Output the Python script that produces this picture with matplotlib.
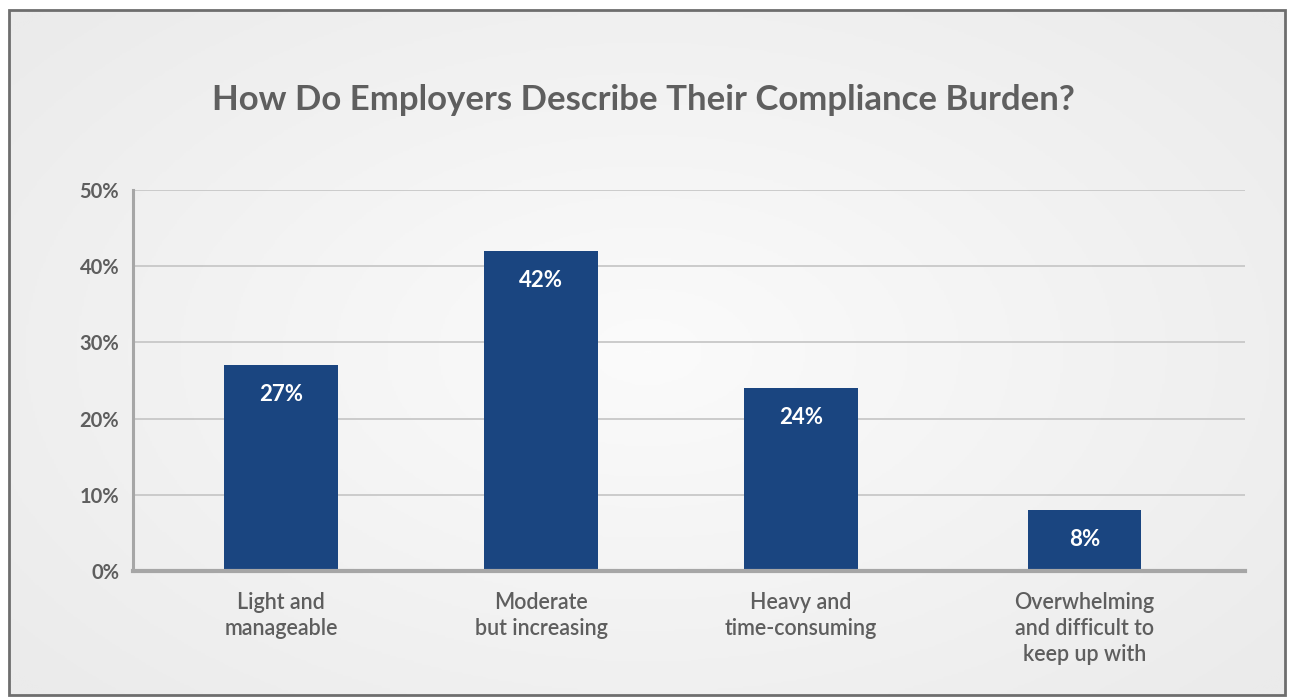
import numpy as np
import matplotlib.pyplot as plt
from matplotlib.patches import Rectangle
from matplotlib.colors import LinearSegmentedColormap

categories = ["Light and\nmanageable", "Moderate\nbut increasing",
              "Heavy and\ntime-consuming", "Overwhelming\nand difficult to\nkeep up with"]
values = [27, 42, 24, 8]
yticks = [0, 10, 20, 30, 40, 50]
title = "How Do Employers Describe Their Compliance Burden?"

bar_color = "#1a4580"
grey_text = "#5e5e5e"

fig = plt.figure(figsize=(12.89, 7), dpi=100)

# fond en dégradé radial dans le cadre
bg = fig.add_axes([0.007, 0.007, 0.99, 0.979])
yy, xx = np.mgrid[-1:1:300j, -1:1:600j]
r = np.sqrt(xx**2 + (yy * 0.9)**2)
grad = np.clip(r / 1.3, 0, 1)
bg.imshow(grad, cmap=LinearSegmentedColormap.from_list("g", ["#fbfbfb", "#ebebeb"]),
          aspect="auto", extent=[0, 1, 0, 1])
bg.set_axis_off()
fig.add_artist(Rectangle((0.007, 0.007), 0.99, 0.979, transform=fig.transFigure,
                         fill=False, edgecolor="#6e6e6e", linewidth=2))

ax = fig.add_axes([0.1032, 0.1843, 0.8627, 0.5443])
ax.patch.set_alpha(0)
xpos = [0, 1, 2, 3.09]
bars = ax.bar(xpos, values, width=0.435, color=bar_color, zorder=3)
for x, v in zip(xpos, values):
    ax.annotate(f"{v}%", xy=(x, v), xytext=(0, -21), textcoords="offset points",
                ha="center", va="center", color="white", fontsize=16,
                fontweight="bold", family="Lato", zorder=4)

ax.set_xlim(-0.569, 3.708)
ax.set_ylim(0, 50)
ax.set_yticks(yticks)
ax.set_yticklabels([f"{t}%" for t in yticks], fontsize=14.5, fontweight="bold",
                   color=grey_text, family="Lato")
ax.set_xticks(xpos)
ax.set_xticklabels(categories, fontsize=15.5, color=grey_text, family="Lato",
                   fontweight="semibold", linespacing=1.3, va="top")
ax.tick_params(axis="y", length=0, pad=10)
ax.tick_params(axis="x", length=0, pad=15)
ax.grid(axis="y", color="#c8c8c8", linewidth=1.3, zorder=0)
for s in ["top", "right"]:
    ax.spines[s].set_visible(False)
ax.spines["left"].set_color("#a6a6a6")
ax.spines["left"].set_linewidth(2.2)
ax.spines["bottom"].set_color("#a6a6a6")
ax.spines["bottom"].set_linewidth(3)
ax.spines["bottom"].set_zorder(5)

fig.text(0.499, 0.857, title, ha="center", va="center", fontsize=25,
         fontweight="bold", color="#5f5f5f", family="Lato")

plt.savefig("out.png", dpi=100)
